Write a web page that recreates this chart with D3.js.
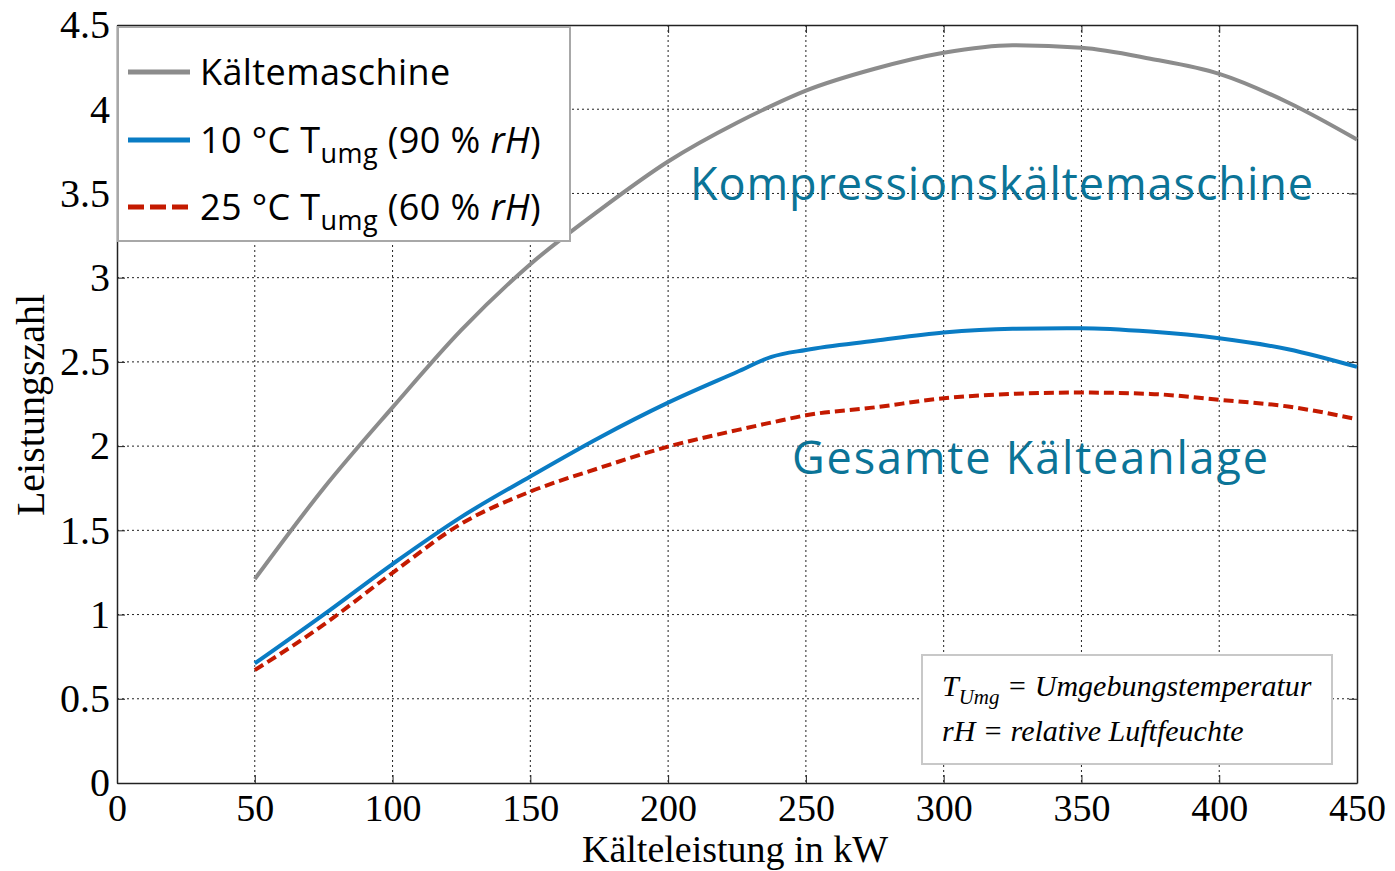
<!DOCTYPE html>
<html>
<head>
<meta charset="utf-8">
<script src="https://cdn.jsdelivr.net/npm/d3@7"></script>
<style>
  body { margin: 0; background: #fff; }
  svg { display: block; }
</style>
</head>
<body>
<div id="chart"></div>
<script>
// Data
const xValues = [50, 75, 100, 125, 150, 175, 200, 225, 237.5, 250, 275, 300, 325, 350, 375, 400, 425, 450];
const machineValues = [1.21, 1.75, 2.23, 2.69, 3.08, 3.40, 3.69, 3.92, 4.02, 4.11, 4.24, 4.335, 4.38, 4.365, 4.30, 4.21, 4.04, 3.82];
const blue10Values = [0.71, 1.0, 1.30, 1.58, 1.82, 2.05, 2.258, 2.44, 2.53, 2.571, 2.625, 2.675, 2.697, 2.70, 2.68, 2.64, 2.575, 2.47];
const red25Values = [0.67, 0.94, 1.248, 1.54, 1.73, 1.87, 1.997, 2.095, 2.14, 2.183, 2.23, 2.284, 2.31, 2.318, 2.31, 2.275, 2.235, 2.16];
const xTicks = [0, 50, 100, 150, 200, 250, 300, 350, 400, 450];
const yTicks = [0, 0.5, 1, 1.5, 2, 2.5, 3, 3.5, 4, 4.5];

const margin = { top: 25, right: 38, bottom: 88, left: 117 };
const width = 1395 - margin.left - margin.right;
const height = 871 - margin.top - margin.bottom;

const svg = d3.select("#chart")
    .append("svg")
    .attr("width", 1395)
    .attr("height", 871);

const g = svg.append("g")
    .attr("transform", `translate(${margin.left}, ${margin.top})`);

// Scales
const x = d3.scaleLinear().domain([0, 450]).range([0, width]);
const y = d3.scaleLinear().domain([0, 4.5]).range([height, 0]);

// Grid
g.selectAll(".vgrid")
    .data(xTicks.slice(1, -1))
    .enter()
    .append("line")
    .attr("x1", d => x(d)).attr("x2", d => x(d))
    .attr("y1", 0).attr("y2", height)
    .attr("stroke", "#222")
    .attr("stroke-width", 1)
    .attr("stroke-dasharray", "2,3");

g.selectAll(".hgrid")
    .data(yTicks.slice(1, -1))
    .enter()
    .append("line")
    .attr("x1", 0).attr("x2", width)
    .attr("y1", d => y(d)).attr("y2", d => y(d))
    .attr("stroke", "#222")
    .attr("stroke-width", 1)
    .attr("stroke-dasharray", "2,3");

// Axes (ticks inward, box on)
const serif = "'Liberation Serif', 'Times New Roman', serif";
const xAxis = g.append("g")
    .attr("transform", `translate(0, ${height})`)
    .call(d3.axisBottom(x).tickValues(xTicks).tickSizeInner(-8).tickSizeOuter(0).tickPadding(11));
const yAxis = g.append("g")
    .call(d3.axisLeft(y).tickValues(yTicks).tickSizeInner(-8).tickSizeOuter(0).tickPadding(7)
        .tickFormat(d3.format("")));
g.append("g")
    .call(d3.axisRight(y).tickValues(yTicks).tickSizeInner(0).tickSizeOuter(0).tickFormat(""))
    .attr("transform", `translate(${width}, 0)`)
    .call(a => a.selectAll(".tick line").attr("x2", -8));
g.append("g")
    .call(d3.axisTop(x).tickValues(xTicks).tickSizeInner(-8).tickSizeOuter(0).tickFormat(""));

g.selectAll(".domain").attr("stroke", "#222").attr("stroke-width", 1.5);
g.selectAll(".tick line").attr("stroke", "#222");
xAxis.selectAll("text")
    .style("font-family", serif)
    .style("font-size", "38px")
    .attr("fill", "#000");
yAxis.selectAll("text")
    .style("font-family", serif)
    .style("font-size", "40px")
    .attr("fill", "#000");

// Axis labels
svg.append("text")
    .attr("x", 735)
    .attr("y", 862)
    .attr("text-anchor", "middle")
    .style("font-family", serif)
    .style("font-size", "38px")
    .text("Kälteleistung in kW");

svg.append("text")
    .attr("transform", "translate(44, 405) rotate(-90)")
    .attr("text-anchor", "middle")
    .style("font-family", serif)
    .style("font-size", "40px")
    .text("Leistungszahl");

// Lines
const line = vals => d3.line()
    .x((d, i) => x(xValues[i]))
    .y(d => y(d))
    .curve(d3.curveMonotoneX)(vals);

g.append("path")
    .attr("d", line(machineValues))
    .attr("fill", "none")
    .attr("stroke", "#8c8c8c")
    .attr("stroke-width", 4);

g.append("path")
    .attr("d", line(blue10Values))
    .attr("fill", "none")
    .attr("stroke", "#0a7cc4")
    .attr("stroke-width", 4);

g.append("path")
    .attr("d", line(red25Values))
    .attr("fill", "none")
    .attr("stroke", "#c41a00")
    .attr("stroke-width", 4)
    .attr("stroke-dasharray", "10,5");

// Curve labels
const labelFont = "'Open Sans', 'Noto Sans', sans-serif";
svg.append("text")
    .attr("x", 690)
    .attr("y", 200)
    .style("font-family", labelFont)
    .style("font-size", "45px")
    .attr("fill", "#0b7497")
    .attr("textLength", 623)
    .text("Kompressionskältemaschine");

svg.append("text")
    .attr("x", 792)
    .attr("y", 474)
    .style("font-family", labelFont)
    .style("font-size", "45px")
    .attr("fill", "#0b7497")
    .attr("textLength", 476)
    .text("Gesamte Kälteanlage");

// Legend
const legend = svg.append("g");
legend.append("rect")
    .attr("x", 118).attr("y", 27)
    .attr("width", 452).attr("height", 214)
    .attr("fill", "#fff")
    .attr("stroke", "#a8a8a8")
    .attr("stroke-width", 2);

const legendItems = [
    { color: "#8c8c8c", dash: null, main: "Kältemaschine" },
    { color: "#0a7cc4", dash: null, main: "10 °C T", sub: "umg", tail: " (90 % ", it: "rH", end: ")" },
    { color: "#c41a00", dash: "16,6", main: "25 °C T", sub: "umg", tail: " (60 % ", it: "rH", end: ")" }
];
const legendY = [72, 140, 207];

legendItems.forEach((d, i) => {
    legend.append("line")
        .attr("x1", 128).attr("x2", 190)
        .attr("y1", legendY[i]).attr("y2", legendY[i])
        .attr("stroke", d.color)
        .attr("stroke-width", 5)
        .attr("stroke-dasharray", d.dash);
    const t = legend.append("text")
        .attr("x", 200)
        .attr("y", legendY[i] + 13)
        .style("font-family", labelFont)
        .style("font-size", "36px")
        .style("letter-spacing", "0.4px")
        .attr("fill", "#000");
    t.append("tspan").text(d.main);
    if (d.sub) {
        t.append("tspan").attr("dy", 10).style("font-size", "27px").text(d.sub);
        t.append("tspan").attr("dy", -10).text(d.tail);
        t.append("tspan").style("font-style", "italic").text(d.it);
        t.append("tspan").text(d.end);
    }
});

// Annotation box
const note = svg.append("g");
note.append("rect")
    .attr("x", 922).attr("y", 655)
    .attr("width", 410).attr("height", 109)
    .attr("fill", "#fff")
    .attr("stroke", "#c8c8c8")
    .attr("stroke-width", 2);

const n1 = note.append("text")
    .attr("x", 942).attr("y", 696)
    .style("font-family", serif)
    .style("font-style", "italic")
    .style("font-size", "30px");
n1.append("tspan").text("T");
n1.append("tspan").attr("dy", 8).style("font-size", "21px").text("Umg");
n1.append("tspan").attr("dy", -8).text(" = Umgebungstemperatur");

note.append("text")
    .attr("x", 942).attr("y", 741)
    .style("font-family", serif)
    .style("font-style", "italic")
    .style("font-size", "30px")
    .text("rH = relative Luftfeuchte");
</script>
</body>
</html>
